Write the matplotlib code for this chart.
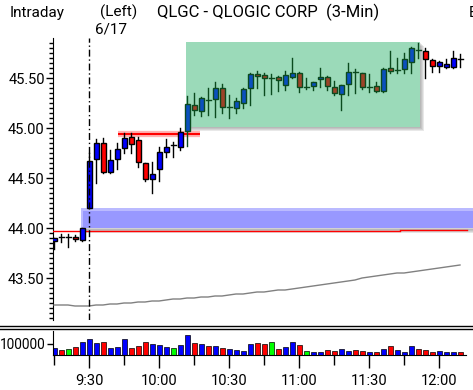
import matplotlib
matplotlib.use("Agg")
import matplotlib.pyplot as plt
from matplotlib.patches import Rectangle
from matplotlib.lines import Line2D
import numpy as np

plt.rcParams['font.family'] = ['Roboto', 'DejaVu Sans']

# 3-minute bars, index 0 = 9:15 (previous session tail), 5 = 9:30
opens = [43.87, 43.91, 43.91, 43.91, 43.88, 44.20, 44.69, 44.85, 44.56, 44.69,
         44.80, 44.91, 44.88, 44.65, 44.49, 44.59, 44.76, 44.83, 44.81, 44.97,
         45.23, 45.17, 45.28, 45.29, 45.40, 45.21, 45.20, 45.25, 45.40, 45.54,
         45.53, 45.50, 45.51, 45.43, 45.51, 45.55, 45.41, 45.42, 45.49, 45.51,
         45.41, 45.34, 45.44, 45.56, 45.55, 45.41, 45.42, 45.37, 45.60, 45.58,
         45.59, 45.66, 45.78, 45.77, 45.68, 45.62, 45.61, 45.61, 45.69]
highs = [43.90, 43.94, 43.94, 43.93, 44.00, 44.75, 44.89, 44.90, 44.78, 44.85,
         44.95, 44.95, 44.91, 44.65, 44.66, 44.81, 44.89, 44.86, 45.00, 45.32,
         45.35, 45.31, 45.40, 45.46, 45.44, 45.33, 45.30, 45.40, 45.55, 45.57,
         45.55, 45.54, 45.52, 45.57, 45.70, 45.56, 45.50, 45.46, 45.60, 45.52,
         45.47, 45.43, 45.65, 45.59, 45.55, 45.54, 45.46, 45.60, 45.77, 45.70,
         45.75, 45.81, 45.85, 45.80, 45.69, 45.67, 45.69, 45.77, 45.74]
lows = [43.79, 43.86, 43.81, 43.87, 43.87, 44.20, 44.45, 44.55, 44.55, 44.59,
        44.75, 44.75, 44.61, 44.47, 44.35, 44.47, 44.71, 44.71, 44.78, 44.82,
        45.13, 45.12, 45.13, 45.11, 45.15, 45.10, 45.15, 45.20, 45.23, 45.40,
        45.33, 45.34, 45.37, 45.38, 45.50, 45.36, 45.39, 45.38, 45.41, 45.38,
        45.33, 45.18, 45.33, 45.35, 45.39, 45.36, 45.36, 45.36, 45.55, 45.55,
        45.55, 45.55, 45.70, 45.50, 45.56, 45.56, 45.60, 45.60, 45.61]
closes = [43.90, 43.91, 43.91, 43.89, 44.00, 44.67, 44.85, 44.56, 44.68, 44.79,
          44.90, 44.84, 44.66, 44.49, 44.54, 44.76, 44.81, 44.83, 44.96, 45.24,
          45.18, 45.30, 45.28, 45.40, 45.21, 45.21, 45.27, 45.39, 45.54, 45.52,
          45.50, 45.50, 45.48, 45.53, 45.55, 45.41, 45.41, 45.46, 45.51, 45.42,
          45.35, 45.43, 45.56, 45.56, 45.41, 45.41, 45.37, 45.59, 45.57, 45.58,
          45.69, 45.80, 45.78, 45.69, 45.62, 45.66, 45.64, 45.70, 45.69]
volumes = [61, 42, 52, 74, 119, 142, 113, 119, 61, 74,
           142, 61, 84, 119, 103, 94, 74, 61, 94, 181,
           113, 103, 84, 84, 61, 55, 42, 32, 97, 113,
           103, 119, 52, 74, 119, 94, 32, 26, 26, 42,
           35, 52, 32, 42, 35, 26, 26, 52, 84, 42,
           26, 84, 52, 42, 26, 32, 26, 26, 26]
vol_colors = list("brgrbbbrbb" "brrrbbbgbb" "rbrbrbbbbr" "rgrbbrgbbr"
                  "rbbrrbrbrb" "bbrrrbbbr")
# moving average (gray)
ma = [43.23, 43.23, 43.23, 43.22, 43.22, 43.22, 43.23, 43.23, 43.24, 43.24,
      43.25, 43.25, 43.26, 43.26, 43.27, 43.27, 43.28, 43.29, 43.29, 43.30,
      43.30, 43.31, 43.31, 43.32, 43.32, 43.33, 43.34, 43.34, 43.35, 43.36,
      43.36, 43.37, 43.38, 43.38, 43.39, 43.40, 43.41, 43.42, 43.43, 43.44,
      43.45, 43.46, 43.47, 43.48, 43.50, 43.51, 43.52, 43.53, 43.54, 43.55,
      43.55, 43.56, 43.57, 43.58, 43.59, 43.60, 43.61, 43.62, 43.63]
prev_close = [(-0.2, 49.4, 43.97), (49.4, 59.0, 43.98)]
gap_band = (3.85, 60.0, 44.00, 44.20)
consol_box = (18.85, 52.3, 45.01, 45.86)
resist = (9.1, 20.9, 44.94)
time_ticks = [5, 15, 25, 35, 45, 55]
time_labels = ["9:30", "10:00", "10:30", "11:00", "11:30", "12:00"]

W, H = 473, 390
fig = plt.figure(figsize=(W / 100, H / 100), dpi=100)


def fx(px):
    return px / W


def fy(py):
    return 1 - py / H


ax = fig.add_axes([fx(53), fy(320), fx(420), (320 - 38) / H])
axv = fig.add_axes([fx(53), fy(355), fx(420), (355 - 331) / H])

xmin, xmax = -1 / 7, 60 - 1 / 7
n = len(opens)
x = np.arange(n)

# gap band with soft edges and shadow
b0, b1, p0, p1 = gap_band
for k in range(4):
    ax.add_patch(Rectangle((b0, p0 - 0.045 + k * 0.008), b1 - b0, 0.03,
                           color="#9a9a9a", alpha=0.25, lw=0, zorder=1))
ax.add_patch(Rectangle((b0, p0), b1 - b0, p1 - p0, color="#9898ff", lw=0, zorder=2))
ax.add_patch(Rectangle((b0, p1 - 0.03), b1 - b0, 0.03, color="#babaff", lw=0, zorder=2))
ax.add_patch(Rectangle((b0, p0), 0.25, p1 - p0, color="#babaff", lw=0, zorder=2))

# consolidation box with shadow
g0, g1, q0, q1 = consol_box
for k in range(4):
    d = 0.15 + k * 0.15
    ax.add_patch(Rectangle((g0 + d, q0 - d * 0.07), g1 - g0, q1 - q0,
                           color="#808080", alpha=0.18, lw=0, zorder=1))
ax.add_patch(Rectangle((g0, q0), g1 - g0, q1 - q0, color="#9bdab9", lw=0, zorder=2))

# prior close (red) and moving average (gray)
for s, e, p in prev_close:
    ax.plot([s, e], [p, p], color="red", lw=1, zorder=3)
ax.plot(x, ma, color="#808080", lw=1, zorder=3)

# resistance line with glow
r0, r1, rp = resist
ax.plot([r0, r1], [rp, rp], color="red", lw=4.5, alpha=0.3,
        solid_capstyle="butt", zorder=3)
ax.plot([r0, r1], [rp, rp], color="red", lw=1.5, solid_capstyle="butt", zorder=3)

# candles
bw = 5 / 7
for i in range(n):
    inside = g0 < i < g1
    edge = "#0b4a1e" if inside else "black"
    ax.plot([i, i], [lows[i], highs[i]], color=edge, lw=1, zorder=4)
    o, c = opens[i], closes[i]
    if abs(c - o) < 0.005:
        ax.plot([i - bw / 2, i + bw / 2], [o, o], color=edge, lw=1, zorder=5)
        continue
    if c > o:
        face = "#0a50be" if inside else "#0000ff"
    else:
        face = "#9c4428" if inside else "#ff0000"
    ax.add_patch(Rectangle((i - bw / 2, min(o, c)), bw, abs(c - o),
                           facecolor=face, edgecolor=edge, lw=1, zorder=5))

ax.axvline(5, color="black", lw=1, ls=(0, (5, 2, 1, 2)), zorder=6)

ax.set_xlim(xmin, xmax)
ax.set_ylim(43.08, 45.90)
ax.set_yticks([43.5, 44.0, 44.5, 45.0, 45.5])
ax.set_yticklabels(["43.50", "44.00", "44.50", "45.00", "45.50"], fontsize=10.5)
ax.set_yticks(np.arange(43.10, 45.89, 0.05), minor=True)
ax.tick_params(axis="y", which="major", length=5, width=1, pad=1)
ax.tick_params(axis="y", which="minor", length=3, width=1)
ax.set_xticks([])
for sp in ["top", "right", "bottom"]:
    ax.spines[sp].set_visible(False)

# volume
vc = {"b": "#0000ff", "r": "#ff0000", "g": "#00ff00"}
axv.bar(x, volumes, width=5 / 7, color=[vc[c] for c in vol_colors],
        edgecolor="black", lw=0.5)
axv.set_xlim(xmin, xmax)
axv.set_ylim(0, 218)
axv.set_yticks([100])
axv.set_yticklabels(["100000"], fontsize=9.8)
axv.tick_params(axis="y", length=4, width=1, pad=1)
axv.set_xticks(time_ticks)
axv.set_xticklabels(time_labels, fontsize=10.5)
axv.set_xticks(np.arange(0, 60, 5), minor=True)
axv.tick_params(axis="x", which="major", length=9, width=1, pad=5)
axv.tick_params(axis="x", which="minor", length=7, width=1)
for sp in ["top", "right"]:
    axv.spines[sp].set_visible(False)
axv.spines["bottom"].set_bounds(xmin, 58.9)

# separator lines between panels
for py in (326, 329):
    fig.add_artist(Line2D([0, 1], [fy(py), fy(py)], color="black", lw=1))

fig.text(fx(10), fy(17), "Intraday", fontsize=11)
fig.text(fx(100), fy(17), "(Left)", fontsize=11)
fig.text(fx(95), fy(33), "6/17", fontsize=11)
fig.text(fx(157), fy(17), "QLGC - QLOGIC CORP  (3-Min)", fontsize=12)
fig.text(fx(469), fy(17), "E", fontsize=11)

fig.savefig("out.png", dpi=100)
